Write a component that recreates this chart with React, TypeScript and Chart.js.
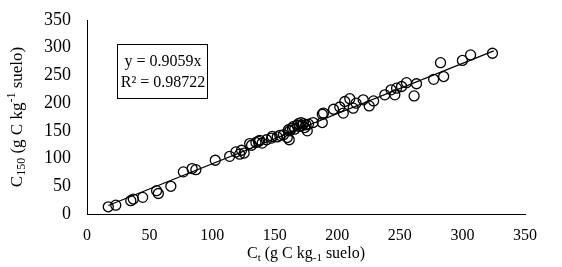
import React, { useEffect, useRef } from "react";
import { Chart, registerables } from "chart.js";

Chart.register(...registerables);

const ctX = [17, 23, 35, 37, 44.5, 55.6, 57, 67, 77, 84, 87, 102.5, 114, 119, 122, 123.5, 125.6, 130, 131.5, 135, 137, 138, 140, 143.5, 147.5, 148, 152, 154, 157, 160, 161.6, 161, 162, 164, 165, 166, 168, 169, 170, 171, 172, 173, 174, 175, 176, 177, 180.7, 188, 188, 189, 197, 202, 204.8, 206, 210, 212.7, 215, 220.7, 225.5, 229, 238, 243, 246, 247.4, 251.4, 255.3, 261.4, 263.3, 277, 282.5, 285, 300, 306.5, 324];
const c150Y = [13, 16, 24, 27, 30, 42, 37, 50, 76, 82, 80, 97, 104, 112, 108, 115, 110, 127, 124, 129, 131, 133, 128, 134, 137, 140, 139, 142, 143, 138, 134, 152, 150, 155, 158, 153, 160, 163, 158, 165, 160, 163, 156, 161, 150, 162, 165, 165, 180, 182, 189, 193, 182, 203, 208, 191, 200, 206, 195, 204, 215, 224, 215, 227, 230, 237, 213, 235, 243, 273, 248, 277, 287, 290];
const trendX = [17, 325];
const trendY = [15.4, 294.4];
const xTicks = [0, 50, 100, 150, 200, 250, 300, 350];
const yTicks = [0, 50, 100, 150, 200, 250, 300, 350];
const eqLines = ["y = 0.9059x", "R² = 0.98722"];

const FONT = "'Liberation Serif', 'Times New Roman', serif";

type Seg = { t: string; s: number; dy: number };

function drawSegs(ctx: CanvasRenderingContext2D, segs: Seg[], cx: number, cy: number) {
  let total = 0;
  for (const sg of segs) {
    ctx.font = `${sg.s}px ${FONT}`;
    total += ctx.measureText(sg.t).width;
  }
  let x = cx - total / 2;
  ctx.textBaseline = "alphabetic";
  ctx.textAlign = "left";
  for (const sg of segs) {
    ctx.font = `${sg.s}px ${FONT}`;
    ctx.fillText(sg.t, x, cy + sg.dy);
    x += ctx.measureText(sg.t).width;
  }
}

const textPlugin = {
  id: "texts",
  afterDraw(chart: any) {
    const ctx = chart.ctx as CanvasRenderingContext2D;
    const a = chart.chartArea;
    ctx.save();
    ctx.fillStyle = "#000";
    // x axis title
    drawSegs(
      ctx,
      [
        { t: "C", s: 16, dy: 0 },
        { t: "t", s: 11, dy: 3 },
        { t: " (g C kg", s: 16, dy: 0 },
        { t: "-1", s: 11, dy: 3 },
        { t: " suelo)", s: 16, dy: 0 },
      ],
      (a.left + a.right) / 2,
      a.bottom + 44
    );
    // y axis title
    ctx.save();
    ctx.translate(22, (a.top + a.bottom) / 2);
    ctx.rotate(-Math.PI / 2);
    drawSegs(
      ctx,
      [
        { t: "C", s: 17, dy: 0 },
        { t: "150", s: 12, dy: 3 },
        { t: " (g C kg", s: 17, dy: 0 },
        { t: "-1", s: 12, dy: -7 },
        { t: " suelo)", s: 17, dy: 0 },
      ],
      0,
      0
    );
    ctx.restore();
    // equation box
    const bx = a.left + 30;
    const by = a.top + 24;
    const bw = 90;
    const bh = 54;
    ctx.fillStyle = "#fff";
    ctx.fillRect(bx, by, bw, bh);
    ctx.strokeStyle = "#000";
    ctx.lineWidth = 1;
    ctx.strokeRect(bx + 0.5, by + 0.5, bw, bh);
    ctx.fillStyle = "#000";
    ctx.font = `16px ${FONT}`;
    ctx.textAlign = "center";
    ctx.textBaseline = "alphabetic";
    ctx.fillText(eqLines[0], bx + bw / 2 + 1, by + 22);
    ctx.fillText(eqLines[1], bx + bw / 2 + 1, by + 43);
    ctx.restore();
  },
};

export default function App() {
  const ref = useRef<HTMLCanvasElement>(null);
  useEffect(() => {
    if (!ref.current) return;
    const chart = new Chart(ref.current, {
      type: "scatter",
      data: {
        datasets: [
          {
            type: "line",
            data: trendX.map((x, i) => ({ x, y: trendY[i] })),
            borderColor: "#000",
            borderWidth: 1.2,
            pointRadius: 0,
            fill: false,
          } as any,
          {
            data: ctX.map((x, i) => ({ x, y: c150Y[i] })),
            pointStyle: "circle",
            pointRadius: 5,
            pointBorderWidth: 1.3,
            pointBorderColor: "#000",
            pointBackgroundColor: "rgba(0,0,0,0)",
            borderColor: "#000",
            backgroundColor: "rgba(0,0,0,0)",
          },
        ],
      },
      options: {
        responsive: false,
        animation: false,
        layout: { padding: { top: 20, right: 37, left: 0, bottom: 0 } },
        plugins: { legend: { display: false }, tooltip: { enabled: false } },
        scales: {
          x: {
            type: "linear",
            min: 0,
            max: 350,
            afterBuildTicks: (s: any) => {
              s.ticks = xTicks.map((v) => ({ value: v }));
            },
            afterFit: (s: any) => {
              s.height = 53;
            },
            ticks: { color: "#000", font: { family: FONT, size: 16 }, padding: 12, maxRotation: 0 },
            grid: { display: false, drawTicks: false },
            border: { display: true, color: "#000", width: 1 },
          },
          y: {
            type: "linear",
            min: 0,
            max: 350,
            afterBuildTicks: (s: any) => {
              s.ticks = yTicks.map((v) => ({ value: v }));
            },
            afterFit: (s: any) => {
              s.width = 87;
              s.paddingTop = 0;
              s.paddingBottom = 0;
            },
            ticks: { color: "#000", font: { family: FONT, size: 18 }, padding: 16 },
            grid: { display: false, drawTicks: false },
            border: { display: true, color: "#000", width: 1 },
          },
        },
      },
      plugins: [textPlugin],
    });
    return () => chart.destroy();
  }, []);
  return (
    <div style={{ position: "absolute", left: 0, top: 0, width: 562, height: 267, background: "#fff" }}>
      <canvas ref={ref} width={562} height={267} />
    </div>
  );
}
